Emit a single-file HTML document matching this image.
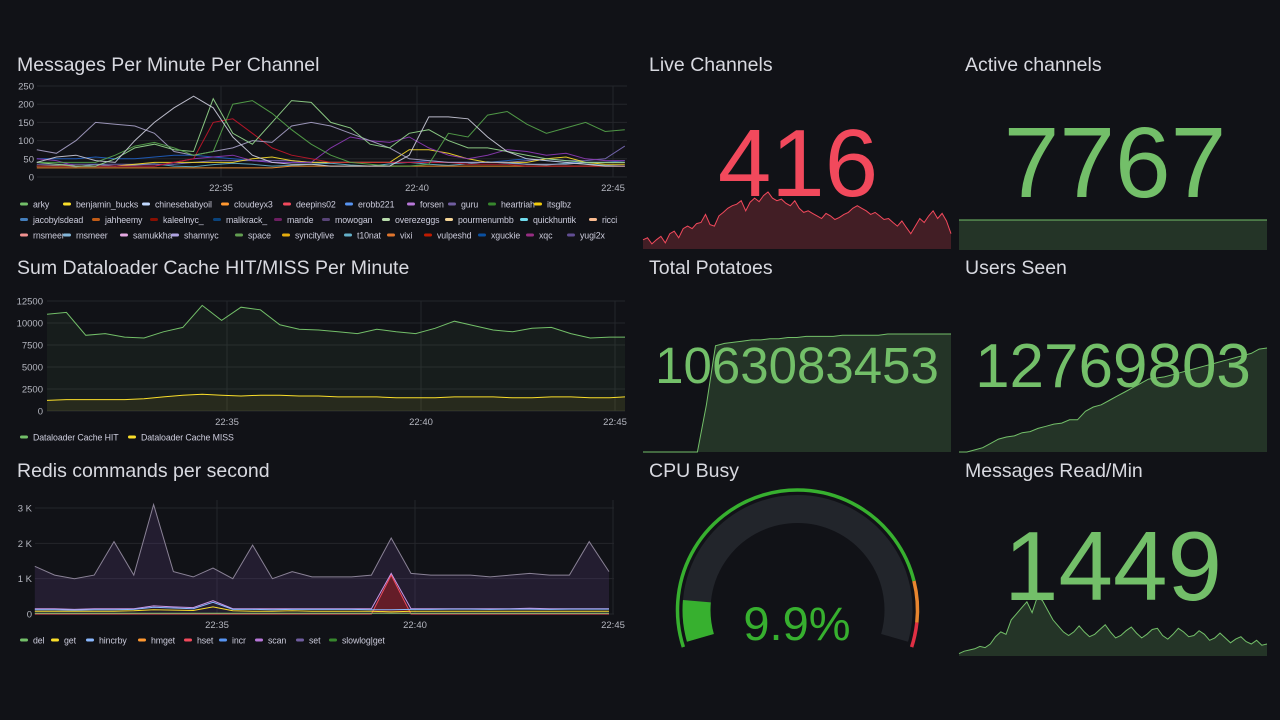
<!DOCTYPE html>
<html><head><meta charset="utf-8">
<style>
html,body{margin:0;padding:0;background:#111217;width:1280px;height:720px;overflow:hidden;font-family:"Liberation Sans",sans-serif;}
svg{position:absolute;left:0;top:0}
.t{fill:#d8d9e0;font-size:19.5px}
.ax{fill:#b5b7c0;font-size:9.5px}
.lg{fill:#ccccdc;font-size:8.8px;letter-spacing:-0.1px}
</style></head>
<body>
<svg id="s" width="1280" height="720">
<text class="t" x="17" y="71">Messages Per Minute Per Channel</text>
<text class="t" x="17" y="274">Sum Dataloader Cache HIT/MISS Per Minute</text>
<text class="t" x="17" y="477">Redis commands per second</text>
<text class="t" x="649" y="71">Live Channels</text>
<text class="t" x="965" y="71">Active channels</text>
<text class="t" x="649" y="274">Total Potatoes</text>
<text class="t" x="965" y="274">Users Seen</text>
<text class="t" x="649" y="477">CPU Busy</text>
<text class="t" x="965" y="477">Messages Read/Min</text>
</svg>
<script>
// ---------- Panel 1 data ----------
const p1Ticks=[0,50,100,150,200,250];
const p1TimeTicks=["22:35","22:40","22:45"];
const p1Names=["arky","benjamin_bucks","chinesebabyoil","cloudeyx3","deepins02","erobb221","forsen","guru","heartriah","itsglbz","jacobylsdead","jahheemy","kaleelnyc_","malikrack_","mande","mowogan","overezeggs","pourmenumbb","quickhuntik","ricci","rnsmeer","rnsmeer","samukkha","shamnyc","space","syncitylive","t10nat","vixi","vulpeshd","xguckie","xqc","yugi2x"];
const p1Colors=["#73BF69","#FADE2A","#C0D8FF","#FF9830","#F2495C","#5794F2","#B877D9","#705DA0","#37872D","#F2CC0C","#447EBC","#C15C17","#890F02","#0A437C","#6D1F62","#584477","#B7DBAB","#F4D598","#70DBED","#F9BA8F","#F29191","#82B5D8","#E5A8E2","#AEA2E0","#629E51","#E5AC0E","#64B0C8","#E0752D","#BF1B00","#0A50A1","#962D82","#614D93"];
const p1LegendX=[20,63,142,221,283,345,407,448,488,534,20,92,150,213,274,322,382,445,520,589,20,63,120,171,235,282,344,387,424,478,526,567];
const p1LegendRow=[0,0,0,0,0,0,0,0,0,0,1,1,1,1,1,1,1,1,1,1,2,2,2,2,2,2,2,2,2,2,2,2];
const p1SeriesA=[40,55,60,45,40,100,150,190,222,190,110,60,40,35,35,30,30,30,30,60,165,165,160,110,70,50,45,40,35,30,30];
const p1SeriesB=[75,65,100,150,145,140,120,70,60,70,80,100,95,140,150,140,120,100,80,50,45,40,40,40,40,35,35,35,40,40,40];
const p1SeriesC=[40,40,40,40,60,85,95,80,60,70,200,210,175,130,90,60,40,35,30,30,35,120,110,170,180,145,120,135,150,125,130];
const p1SeriesD=[40,35,30,30,50,80,90,75,70,215,120,90,150,210,205,150,135,90,80,120,130,100,80,80,70,60,50,45,40,40,40];
const p1SeriesE=[30,30,30,30,30,30,30,40,50,150,160,120,80,60,50,40,40,40,40,40,40,40,35,35,35,30,30,30,30,30,30];
const p1SeriesF=[50,45,30,30,30,30,30,40,50,55,60,45,40,40,40,80,110,100,95,110,80,60,50,60,75,70,60,65,50,45,45];
const p1SeriesG=[30,30,30,30,30,35,40,40,40,40,40,50,55,45,40,40,40,40,40,75,75,65,50,40,40,40,50,55,40,35,35];
const p1SeriesH=[50,50,50,55,50,50,55,60,60,55,50,45,40,40,40,40,40,40,40,40,45,40,40,40,45,50,45,40,40,40,45];
const p1SeriesI=[25,25,25,25,25,25,25,25,25,25,25,25,25,30,30,30,30,30,30,30,30,30,30,30,30,30,30,30,30,30,30];
const p1SeriesJ=[35,35,35,35,35,35,35,35,40,45,45,45,45,45,40,40,40,40,40,40,40,40,40,40,40,45,50,45,45,50,85];
const p1SeriesK=[30,32,28,35,30,33,36,30,28,34,38,35,30,32,35,38,33,30,36,40,35,32,36,42,38,35,33,38,36,32,30];
// ---------- Panel 2 data ----------
const p2Ticks=[0,2500,5000,7500,10000,12500];
const p2Hit=[11000,11200,8600,8800,8400,8300,9000,9500,12000,10300,11800,11500,9800,9300,9200,9000,8800,9300,9000,8800,9400,10200,9700,9200,9000,9400,9500,8800,8300,8400,8400];
const p2Miss=[1200,1300,1300,1300,1300,1400,1600,1800,1900,1800,1700,1800,1800,1700,1700,1600,1600,1600,1500,1500,1500,1600,1600,1600,1500,1500,1600,1600,1500,1500,1600];
const p2Names=["Dataloader Cache HIT","Dataloader Cache MISS"];
// ---------- Panel 3 data ----------
const p3Ticks=[0,1000,2000,3000];
const p3TickLabels=["0","1 K","2 K","3 K"];
const p3Set=[1350,1100,1000,1100,2050,1100,3100,1200,1050,1300,1000,1950,1000,1200,1050,1050,1050,1100,2150,1150,1100,1100,1100,1050,1100,1150,1100,1100,2050,1200];
const p3Scan=[150,150,130,150,150,150,230,200,180,380,150,150,150,150,150,150,150,150,1150,150,150,150,150,150,150,160,150,150,150,150];
const p3Hset=[0,0,0,0,0,0,0,0,0,0,0,0,0,0,0,0,0,0,1100,0,0,0,0,0,0,0,0,0,0,0];
const p3Hincrby=[120,120,110,120,120,130,190,170,150,330,130,130,120,130,130,130,130,120,120,130,130,140,140,130,140,140,130,140,140,140];
const p3Get=[80,80,80,80,80,90,120,110,100,200,90,80,80,90,80,80,80,80,60,80,80,80,80,80,80,80,80,80,80,80];
const p3Del=[20,20,20,20,20,20,20,20,20,20,20,20,20,20,20,20,20,20,20,20,20,20,20,20,20,20,20,20,20,20];
const p3Names=["del","get","hincrby","hmget","hset","incr","scan","set","slowlog|get"];
const p3Colors=["#73BF69","#FADE2A","#8AB8FF","#FF9830","#F2495C","#5794F2","#B877D9","#705DA0","#37872D"];
const p3LegendX=[20,51,86,138,184,219,255,296,329];
// ---------- Stat data ----------
const liveValue="416";
const liveSpark=[318,322,310,318,325,312,330,335,322,340,345,340,350,352,368,348,345,365,372,380,385,388,395,375,392,400,393,405,412,400,395,398,390,385,395,380,372,375,370,365,360,370,365,358,362,368,372,380,385,380,375,368,372,365,358,360,352,345,355,342,330,345,360,352,365,375,360,370,355,330];
const activeValue="7767";
const activeSpark=[7767,7767,7767,7767,7767,7767];
const potatoValue="1063083453";
const potatoSpark=[0,0,0,0,0,0,0,40,90,92,93,94,95,95,96,96,97,97,98,98,98,98,99,99,99,99,99,100,100,100,100,100,100,100,100];
const usersValue="12769803";
const usersSpark=[0,0,2,4,8,12,14,15,18,19,22,24,26,27,30,30,38,42,44,48,52,56,60,64,68,69,70,72,74,76,78,80,82,84,86,88,90,92,96,97];
const cpuValue=9.9;
const readValue="1449";
const readSpark=[1020,1040,1050,1060,1080,1070,1100,1160,1200,1180,1300,1350,1400,1450,1360,1490,1460,1380,1300,1250,1200,1170,1200,1250,1200,1160,1180,1220,1260,1200,1150,1170,1210,1240,1190,1150,1180,1220,1230,1170,1140,1180,1230,1200,1160,1170,1210,1180,1130,1150,1190,1150,1110,1140,1160,1120,1100,1130,1090,1100];

const svg=document.getElementById('s');
const NS="http://www.w3.org/2000/svg";
function mk(tag,attrs,parent){const e=document.createElementNS(NS,tag);for(const k in attrs)e.setAttribute(k,attrs[k]);(parent||svg).appendChild(e);return e;}
function pathD(xs,ys){return xs.map((x,i)=>(i?'L':'M')+x.toFixed(1)+' '+ys[i].toFixed(1)).join(' ');}

// ===== Panel 1 =====
{
 const x=t=>221+(t-5)*39.2, y=v=>177-v*(91/250);
 const tAt=i=>0.3+0.5*i;
 p1Ticks.forEach(v=>{
  const g=mk('line',{x1:37,x2:627,y1:y(v),y2:y(v),stroke:'#24262b','stroke-width':1});
  
  
  const tx=mk('text',{x:34,y:y(v)+3.5,'text-anchor':'end',class:'ax'});tx.textContent=v;
  
  
 });
 p1TimeTicks.forEach((l,i)=>{
  const xx=x(5+5*i);
  const g=mk('line',{x1:xx,x2:xx,y1:86,y2:177,stroke:'#24262b'});
  
  
  const tx=mk('text',{x:xx,y:191,'text-anchor':'middle',class:'ax'});tx.textContent=l;
  
  
 });
 const series=[p1SeriesK,p1SeriesI,p1SeriesH,p1SeriesJ,p1SeriesG,p1SeriesF,p1SeriesE,p1SeriesB,p1SeriesD,p1SeriesC,p1SeriesA];
 const cols=["#64B0C8","#FF9830","#1F60C4","#7A6CB8","#FADE2A","#8F3BB8","#C4162A","#A8A2C8","#96D98D","#56A64B","#CCCCDC"];
 series.forEach((s,k)=>{
  const p=mk('path',{d:pathD(s.map((_,i)=>x(tAt(i))),s.map(v=>y(v))),fill:'none',stroke:cols[k],'stroke-width':1,'stroke-opacity':0.9});
  
  
 });
 p1Names.forEach((n,i)=>{
  const yy=204+p1LegendRow[i]*15.5;
  const m=mk('rect',{x:p1LegendX[i],y:yy-1.5,width:8,height:3,rx:1.5,fill:p1Colors[i]});
  
  
  const tx=mk('text',{x:p1LegendX[i]+13,y:yy+3.5,class:'lg'});tx.textContent=n;
  
  
 });
}
// ===== Panel 2 =====
{
 const x=t=>227+(t-5)*38.8, y=v=>411-v*(110/12500);
 const tAt=i=>0.36+0.5*i;
 p2Ticks.forEach(v=>{
  const g=mk('line',{x1:47,x2:625,y1:y(v),y2:y(v),stroke:'#24262b'});
  
  
  const tx=mk('text',{x:43,y:y(v)+3.5,'text-anchor':'end',class:'ax'});tx.textContent=v;
  
  
 });
 p1TimeTicks.forEach((l,i)=>{
  const xx=x(5+5*i);
  const g=mk('line',{x1:xx,x2:xx,y1:301,y2:411,stroke:'#24262b'});
  
  
  const tx=mk('text',{x:xx,y:425,'text-anchor':'middle',class:'ax'});tx.textContent=l;
  
  
 });
 [[p2Hit,'#73BF69','rgba(115,191,105,0.07)'],[p2Miss,'#FADE2A','rgba(250,222,42,0.07)']].forEach(([s,c,f])=>{
  const xs=s.map((_,i)=>Math.min(x(tAt(i)),625)), ys=s.map(v=>y(v));
  const a=mk('path',{d:pathD(xs,ys)+` L${xs[xs.length-1]} 411 L${xs[0]} 411 Z`,fill:f});
  
  
  const p=mk('path',{d:pathD(xs,ys),fill:'none',stroke:c,'stroke-width':1});
  
  
 });
 [20,128].forEach((lx,i)=>{
  const m=mk('rect',{x:lx,y:435.5,width:8,height:3,rx:1.5,fill:i?'#FADE2A':'#73BF69'});
  
  
  const tx=mk('text',{x:lx+13,y:440.5,class:'lg'});tx.textContent=p2Names[i];
  
  
 });
}
// ===== Panel 3 =====
{
 const x=t=>217+(t-5)*39.6, y=v=>614-v*(106/3000);
 const tAt=i=>0.4+0.5*i;
 p3Ticks.forEach((v,i)=>{
  const g=mk('line',{x1:35,x2:614,y1:y(v),y2:y(v),stroke:'#24262b'});
  
  
  const tx=mk('text',{x:32,y:y(v)+3.5,'text-anchor':'end',class:'ax'});tx.textContent=p3TickLabels[i];
  
  
 });
 p1TimeTicks.forEach((l,i)=>{
  const xx=x(5+5*i);
  const g=mk('line',{x1:xx,x2:xx,y1:500,y2:614,stroke:'#24262b'});
  
  
  const tx=mk('text',{x:Math.min(xx,613),y:628,'text-anchor':'middle',class:'ax'});tx.textContent=l;
  
  
 });
 const defs=[[p3Set,'#8a8296','rgba(100,70,140,0.22)'],[p3Hset,'#F2495C','rgba(180,30,30,0.45)'],[p3Scan,'#CA95E5',null],[p3Hincrby,'#8AB8FF',null],[p3Get,'#FADE2A',null],[p3Del,'#73BF69',null]];
 defs.forEach(([s,c,f])=>{
  const xs=s.map((_,i)=>x(tAt(i))), ys=s.map(v=>y(v));
  if(f){
   const a=mk('path',{d:pathD(xs,ys)+` L${xs[xs.length-1]} 614 L${xs[0]} 614 Z`,fill:f});
   
   
  }
  const p=mk('path',{d:pathD(xs,ys),fill:'none',stroke:c,'stroke-width':1});
  
  
 });
 p3Names.forEach((n,i)=>{
  const m=mk('rect',{x:p3LegendX[i],y:638.5,width:8,height:3,rx:1.5,fill:p3Colors[i]});
  
  
  const tx=mk('text',{x:p3LegendX[i]+13,y:643.5,class:'lg'});tx.textContent=n;
  
  
 });
}
// ===== Stat sparklines =====
function spark(data,x0,x1,yBot,yTop,vmin,vmax,stroke,fill,name){
 const xs=data.map((_,i)=>x0+(x1-x0)*i/(data.length-1));
 const ys=data.map(v=>yBot-(v-vmin)/(vmax-vmin)*(yBot-yTop));
 const a=mk('path',{d:pathD(xs,ys)+` L${x1} ${yBot} L${x0} ${yBot} Z`,fill:fill});
 
 
 const p=mk('path',{d:pathD(xs,ys),fill:'none',stroke:stroke,'stroke-width':1});
 
 
}
function bigText(txt,x,y,size,color,name){
 const t=mk('text',{x:x,y:y,'text-anchor':'middle','font-size':size,fill:color,'font-family':'Liberation Sans, sans-serif'});
 t.textContent=txt;
 
 
 return t;
}
spark(liveSpark,643,951,249,192,300,412,'#F2495C','rgba(242,73,92,0.22)','live-channels-spark');
bigText(liveValue,798,196,96,'#F2495C','live-channels-value');
spark(activeSpark,959,1267,250,220,0,7767,'#73BF69','rgba(115,191,105,0.2)','active-channels-spark');
bigText(activeValue,1115,197,100,'#73BF69','active-channels-value');
spark(potatoSpark,643,951,452,334,0,100,'#73BF69','rgba(115,191,105,0.2)','total-potatoes-spark');
bigText(potatoValue,797,383,51,'#73BF69','total-potatoes-value');
spark(usersSpark,959,1267,452,348,0,97,'#73BF69','rgba(115,191,105,0.2)','users-seen-spark');
bigText(usersValue,1113,387,62,'#73BF69','users-seen-value');
spark(readSpark,959,1267,656,597,1000,1490,'#73BF69','rgba(115,191,105,0.2)','messages-read-spark');
bigText(readValue,1113,600,98,'#73BF69','messages-read-value');
// ===== Gauge =====
{
 const cx=797.5, cy=610, span=108;
 const pt=(r,a)=>[cx+r*Math.sin(a*Math.PI/180), cy-r*Math.cos(a*Math.PI/180)];
 function arc(r,a0,a1,color,w,name){
  const [x0,y0]=pt(r,a0),[x1,y1]=pt(r,a1);
  const p=mk('path',{d:`M${x0} ${y0} A${r} ${r} 0 ${a1-a0>180?1:0} 1 ${x1} ${y1}`,fill:'none',stroke:color,'stroke-width':w});
  
  
 }
 arc(120,-span,76,'#37B02F',3.5,'gauge-threshold-green');
 arc(120,76,96,'#E8862F',3.5,'gauge-threshold-orange');
 arc(120,96,span,'#E02F44',3.5,'gauge-threshold-red');
 arc(101,-span+2,span-2,'#22252b',28,'gauge-track');
 arc(101,-span+2,-span+2+(2*span-4)*cpuValue/100,'#37B02F',28,'gauge-value-bar');
 bigText(cpuValue.toFixed(1)+'%',797,640,47,'#37B02F','cpu-busy-value');
}
</script>
</body></html>
